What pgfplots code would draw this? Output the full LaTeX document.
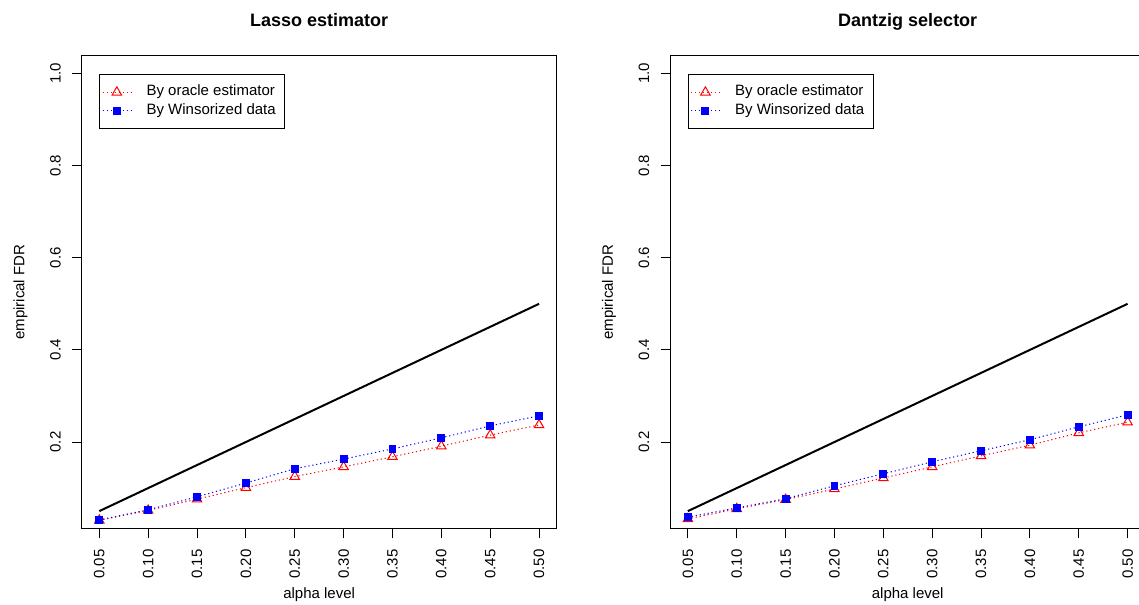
\documentclass[border=0pt]{standalone}
\usepackage{fontspec}
\setmainfont{Liberation Sans}
\usepackage{pgfplots}
\pgfplotsset{compat=1.18}

\definecolor{rred}{HTML}{FF0000}
\definecolor{rblue}{HTML}{0000FF}

\pgfplotsset{
  rpanel/.style={
    scale only axis, width=356.2pt, height=354.5pt,
    xmin=0.032, xmax=0.518, ymin=0.012, ymax=1.038,
    axis line style={black, line width=0.75pt},
    tick style={black, line width=0.75pt},
    tick align=outside, major tick length=7.3pt, tick pos=left,
    xtick={0.05,0.10,...,0.50}, ytick={0.2,0.4,0.6,0.8,1.0},
    /pgf/number format/assume math mode=true,
    xticklabel={\pgfmathprintnumber[fixed,fixed zerofill,precision=2]{\tick}},
    yticklabel={\pgfmathprintnumber[fixed,fixed zerofill,precision=1]{\tick}},
    ticklabel style={font=\fontsize{11.25}{13}\selectfont, inner sep=0pt},
    xticklabel style={rotate=90, anchor=east},
    yticklabel style={rotate=90, anchor=south},
    xticklabel shift=8.2pt, yticklabel shift=8.2pt,
    label style={font=\fontsize{11.25}{13}\selectfont, inner sep=0pt},
    xlabel={alpha level}, ylabel={empirical FDR},
    xlabel style={at={(axis description cs:0.5,-0.1475)}, anchor=base},
    ylabel style={at={(axis description cs:-0.1207,0.5)}, anchor=base, rotate=0},
    title style={font=\bfseries\fontsize{13.5}{16}\selectfont, inner sep=0pt,
                 at={(axis description cs:0.5,1.046)}, anchor=base, yshift=0pt},
    legend style={draw=black, line width=0.75pt, fill=white,
                  at={(axis description cs:0,1)}, anchor=north west,
                  xshift=13.2pt, yshift=-13.7pt,
                  inner xsep=1.8pt, inner ysep=7.9pt, row sep=3.2pt,
                  column sep=11.3pt,
                  nodes={inner sep=0pt, text height=8pt, text depth=2.5pt},
                  font=\fontsize{11.25}{13}\selectfont},
    legend cell align=left,
    legend image code/.code={
      \draw[mark repeat=2, mark phase=2]
        plot coordinates {(0pt,0pt) (10.6pt,0pt) (21.2pt,0pt)};},
  },
  oracle/.style={rred, line width=0.75pt, dash pattern=on 0.9pt off 2.1pt,
                 mark=triangle, mark size=4.1pt,
                 mark options={solid, line width=0.75pt}},
  winsor/.style={rblue, line width=0.75pt, dash pattern=on 0.9pt off 2.1pt,
                 mark=square*, mark size=2.6pt,
                 mark options={solid, draw=rblue, fill=rblue, line width=0pt}},
}

\begin{document}
\begin{tikzpicture}
\useasboundingbox (-61.3pt,-57.2pt) rectangle (793.0pt,396.5pt);

\begin{axis}[rpanel, title={Lasso estimator}]
\addplot[black, line width=1.5pt, forget plot] coordinates {(0.05,0.05) (0.50,0.50)};
\addplot[oracle] coordinates {
  (0.05,0.030) (0.10,0.0515) (0.15,0.076) (0.20,0.101) (0.25,0.125)
  (0.30,0.146) (0.35,0.168) (0.40,0.191) (0.45,0.215) (0.50,0.237)};
\addlegendentry{By oracle estimator\hspace*{5.4pt}}
\addplot[winsor] coordinates {
  (0.05,0.031) (0.10,0.053) (0.15,0.081) (0.20,0.111) (0.25,0.142)
  (0.30,0.163) (0.35,0.185) (0.40,0.209) (0.45,0.235) (0.50,0.257)};
\addlegendentry{By Winsorized data}
\end{axis}

\begin{axis}[rpanel, at={(441.45pt,0pt)}, anchor=south west, title={Dantzig selector}]
\addplot[black, line width=1.5pt, forget plot] coordinates {(0.05,0.05) (0.50,0.50)};
\addplot[oracle] coordinates {
  (0.05,0.033) (0.10,0.055) (0.15,0.075) (0.20,0.098) (0.25,0.122)
  (0.30,0.146) (0.35,0.170) (0.40,0.193) (0.45,0.220) (0.50,0.243)};
\addlegendentry{By oracle estimator\hspace*{5.4pt}}
\addplot[winsor] coordinates {
  (0.05,0.037) (0.10,0.057) (0.15,0.077) (0.20,0.105) (0.25,0.131)
  (0.30,0.157) (0.35,0.181) (0.40,0.205) (0.45,0.233) (0.50,0.259)};
\addlegendentry{By Winsorized data}
\end{axis}
\end{tikzpicture}
\end{document}
